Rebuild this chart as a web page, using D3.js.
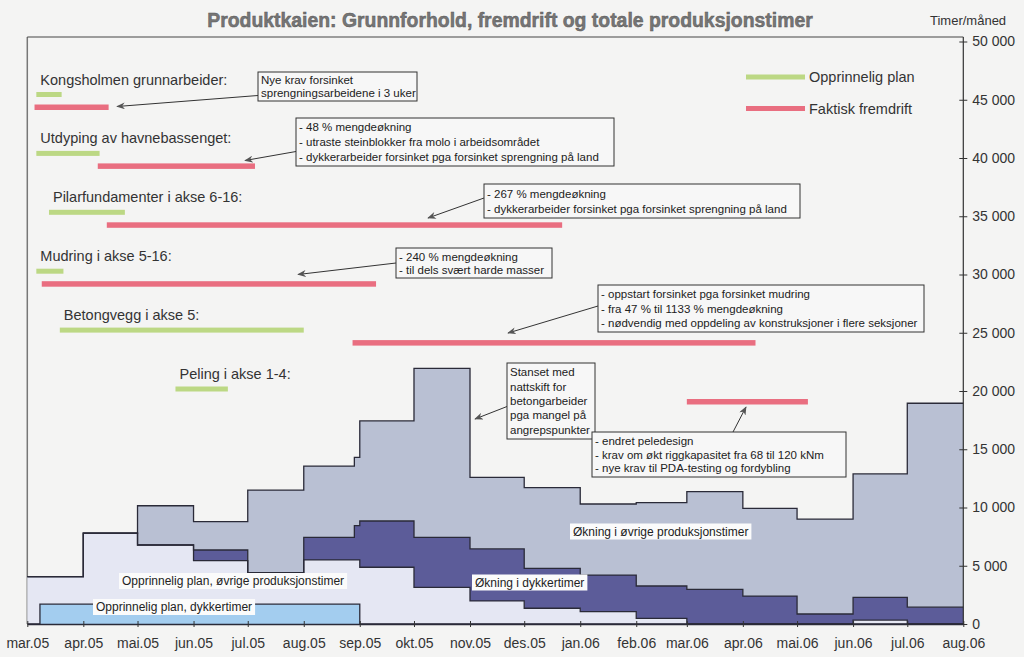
<!DOCTYPE html>
<html><head><meta charset="utf-8">
<script src="https://cdn.jsdelivr.net/npm/d3@7"></script>
<style>
body{margin:0;background:#f4f4f3;}
svg{display:block;font-family:Arial,"Liberation Sans",sans-serif;}
</style></head><body>
<svg id="c" width="1024" height="657"></svg>
<script>
// ---------- DATA ----------
const stepDates = ["2005-03-01","2005-03-08","2005-04-01","2005-05-01","2005-06-01","2005-07-01","2005-08-01","2005-08-29","2005-09-01","2005-10-01","2005-11-01","2005-12-01","2006-01-01","2006-02-01","2006-03-01","2006-04-01","2006-05-01","2006-06-01","2006-07-01","2006-08-01"];
const planDykker   = [0,1700,1700,1700,1700,1700,1700,1700,0,0,0,0,0,0,0,0,0,0,0,0];
const planOvrige   = [4060,2360,6100,5080,3740,2700,3800,3800,4870,3150,1980,1350,1060,490,0,0,0,340,0,0];
const okningDykker = [0,0,0,0,910,0,1930,2940,3970,4290,4460,3430,3140,2770,2980,2400,860,1950,1440,1440];
const okningOvrige = [0,0,0,3370,2430,7100,6130,5870,8590,14510,6150,6920,6100,7150,8380,7530,8150,10590,17510,17510];

const xTickDates  = ["2005-03-01","2005-04-01","2005-05-01","2005-06-01","2005-07-01","2005-08-01","2005-09-01","2005-10-01","2005-11-01","2005-12-01","2006-01-01","2006-02-01","2006-03-01","2006-04-01","2006-05-01","2006-06-01","2006-07-01","2006-08-01"];
const xTickLabels = ["mar.05","apr.05","mai.05","jun.05","jul.05","aug.05","sep.05","okt.05","nov.05","des.05","jan.06","feb.06","mar.06","apr.06","mai.06","jun.06","jul.06","aug.06"];
const yTickValues = [0,5000,10000,15000,20000,25000,30000,35000,40000,45000,50000];

const tasks       = ["Kongsholmen grunnarbeider:","Utdyping av havnebassenget:","Pilarfundamenter i akse 6-16:","Mudring i akse 5-16:","Betongvegg i akse 5:","Peling i akse 1-4:"];
const planStart   = ["2005-03-06","2005-03-06","2005-03-13","2005-03-06","2005-03-19","2005-05-22"];
const planEnd     = ["2005-03-20","2005-04-10","2005-04-24","2005-03-21","2005-08-01","2005-06-20"];
const actualStart = ["2005-03-05","2005-04-09","2005-04-14","2005-03-09","2005-08-28","2006-03-01"];
const actualEnd   = ["2005-04-15","2005-07-05","2005-12-22","2005-09-10","2006-04-08","2006-05-07"];

const layerNames  = ["Opprinnelig plan, dykkertimer","Opprinnelig plan, øvrige produksjonstimer","Økning i dykkertimer","Økning i øvrige produksjonstimer"];
const legendNames = ["Opprinnelig plan","Faktisk fremdrift"];

const notes = [
  {lines:["Nye krav forsinket","sprengningsarbeidene i 3 uker"]},
  {lines:["- 48 % mengdeøkning","- utraste steinblokker fra molo i arbeidsområdet","- dykkerarbeider forsinket pga forsinket sprengning på land"]},
  {lines:["- 267 % mengdeøkning","- dykkerarbeider forsinket pga forsinket sprengning på land"]},
  {lines:["- 240 % mengdeøkning","- til dels svært harde masser"]},
  {lines:["- oppstart forsinket pga forsinket mudring","- fra 47 % til 1133 % mengdeøkning","- nødvendig med oppdeling av konstruksjoner i flere seksjoner"]},
  {lines:["Stanset med","nattskift for","betongarbeider","pga mangel på","angrepspunkter"]},
  {lines:["- endret peledesign","- krav om økt riggkapasitet fra 68 til 120 kNm","- nye krav til PDA-testing og fordybling"]}
];
// layout of annotation boxes (pixels): box x,y,w,h ; arrow from -> to
const noteLayout = [
  {x:258,y:72,w:159,h:29, fx:258,fy:95.5, tx:117,ty:106.5},
  {x:296,y:118,w:318,h:48, fx:296,fy:151.5, tx:245,ty:160.5},
  {x:484,y:184,w:316,h:34, fx:484,fy:198, tx:428,ty:218},
  {x:396,y:248,w:156,h:30, fx:396,fy:263, tx:298,ty:274.5},
  {x:598,y:285,w:326,h:47, fx:598,fy:306, tx:508,ty:333},
  {x:507,y:363,w:88,h:76, fx:507,fy:406.5, tx:475,ty:419},
  {x:592,y:432,w:254,h:45, fx:733,fy:432, tx:746,ty:407}
];

// ---------- SCALES ----------
const parse = d3.utcParse("%Y-%m-%d");
const svg = d3.select("#c");
const x = d3.scaleUtc().domain([parse("2005-03-01"), parse("2006-08-01")]).range([27.3, 963.3]);
const y = d3.scaleLinear().domain([0, 50000]).range([624, 41.5]);

const colors = ["#a3cdef","#e5e7f3","#5c5c99","#b9c0d3"];
const ink = "#2a2a38";

// ---------- FRAME ----------
svg.append("line").attr("x1",27.3).attr("x2",27.3).attr("y1",37).attr("y2",624)
  .attr("stroke","#777").attr("stroke-width",1.5);
svg.append("line").attr("x1",27.3).attr("x2",963.3).attr("y1",37).attr("y2",37)
  .attr("stroke","#444").attr("stroke-width",1);

// ---------- STACKED STEP AREA ----------
const rows = stepDates.map((d,i)=>({date:parse(d), a:planDykker[i], b:planOvrige[i], c:okningDykker[i], d:okningOvrige[i]}));
const stack = d3.stack().keys(["a","b","c","d"]);
const series = stack(rows);
const area = d3.area().curve(d3.curveStepAfter)
  .x(d=>x(d.data.date)).y0(d=>y(d[0])).y1(d=>y(d[1]));
const topLine = d3.line().curve(d3.curveStepAfter)
  .x(d=>x(d.data.date)).y(d=>y(d[1]));

const gA = svg.append("g");
series.slice().reverse().forEach(s=>{
  gA.append("path").attr("d",area(s)).attr("fill",colors[s.index]).attr("stroke","none");
});
series.forEach(s=>{
  gA.append("path").attr("d",topLine(s)).attr("fill","none").attr("stroke",ink).attr("stroke-width",1.3);
});

// area labels
const areaLabels = [
  {t:layerNames[0], x:96,  y:607},
  {t:layerNames[1], x:122, y:581},
  {t:layerNames[2], x:475, y:582.5},
  {t:layerNames[3], x:573, y:531.5}
];
areaLabels.forEach(l=>{
  const t = svg.append("text").attr("x",l.x).attr("y",l.y).attr("dy","0.35em")
    .attr("font-size",12).attr("fill","#222").text(l.t);
  const bb = t.node().getBBox();
  svg.insert("rect", ()=>t.node()).attr("x",bb.x-3).attr("y",l.y-8).attr("width",bb.width+6).attr("height",16)
    .attr("fill","#fbfbfb");
});

// ---------- AXES ----------
const fmt = d3.formatLocale({decimal:",", thousands:" ", grouping:[3], currency:["",""]}).format(",");
const yAxis = svg.append("g").attr("transform","translate(963.3,0)")
  .call(d3.axisRight(y).tickValues(yTickValues).tickFormat(fmt).tickSizeInner(4).tickSizeOuter(0).tickPadding(5));
yAxis.select(".domain").attr("d","M0,37V624").attr("stroke","#333").attr("stroke-width",1.2);
yAxis.selectAll(".tick line").attr("x1",-4).attr("stroke","#333");
yAxis.selectAll("text").attr("font-size",14).attr("fill","#333").attr("font-family","Arial,'Liberation Sans',sans-serif");

const xAxis = svg.append("g").attr("transform","translate(0,624)")
  .call(d3.axisBottom(x).tickValues(xTickDates.map(parse)).tickFormat((d,i)=>xTickLabels[i]).tickSizeInner(3).tickSizeOuter(0).tickPadding(11));
xAxis.select(".domain").attr("stroke",ink).attr("stroke-width",1.3);
xAxis.selectAll(".tick line").attr("y1",-3).attr("stroke","#333");
xAxis.selectAll("text").attr("font-size",14).attr("fill","#333").attr("font-family","Arial,'Liberation Sans',sans-serif");

// ---------- GANTT ----------
const ty = d3.scalePoint().domain(tasks).range([100.5, 395]);
const green = "#bcd884", red = "#e96e80";
const gG = svg.append("g");
tasks.forEach((t,i)=>{
  const c = ty(t);
  gG.append("rect").attr("x",x(parse(planStart[i]))).attr("width",x(parse(planEnd[i]))-x(parse(planStart[i])))
    .attr("y",c-8.5).attr("height",5).attr("fill",green);
  gG.append("rect").attr("x",x(parse(actualStart[i]))).attr("width",x(parse(actualEnd[i]))-x(parse(actualStart[i])))
    .attr("y",c+4).attr("height",5.5).attr("fill",red);
  gG.append("text").attr("x",x(parse(planStart[i]))+4).attr("y",c-16).attr("font-size",14.5).attr("fill","#333").text(t);
});

// legend
[green, red].forEach((col,i)=>{
  const ly = [77,108.5][i];
  svg.append("rect").attr("x",746).attr("y",ly-2.5).attr("width",59).attr("height",5).attr("fill",col);
  svg.append("text").attr("x",809).attr("y",ly).attr("dy","0.35em").attr("font-size",14.5).attr("fill","#333").text(legendNames[i]);
});

// ---------- ANNOTATIONS ----------
const defs = svg.append("defs");
defs.append("marker").attr("id","arr").attr("viewBox","0 0 10 8").attr("refX",9).attr("refY",4)
  .attr("markerWidth",9).attr("markerHeight",7).attr("orient","auto").attr("markerUnits","userSpaceOnUse")
  .append("path").attr("d","M10,4 L0,0 L3,4 L0,8 Z").attr("fill","#555");
notes.forEach((n,i)=>{
  const L = noteLayout[i];
  svg.append("line").attr("x1",L.fx).attr("y1",L.fy).attr("x2",L.tx).attr("y2",L.ty)
    .attr("stroke","#333").attr("stroke-width",1).attr("marker-end","url(#arr)");
  svg.append("rect").attr("x",L.x).attr("y",L.y).attr("width",L.w).attr("height",L.h)
    .attr("fill","#f7f7f7").attr("stroke","#333").attr("stroke-width",1);
  const lh = (L.h-4)/n.lines.length;
  n.lines.forEach((s,j)=>{
    svg.append("text").attr("x",L.x+3).attr("y",L.y+2+lh*(j+0.5)).attr("dy","0.35em")
      .attr("font-size",11.5).attr("fill","#222").text(s);
  });
});

// ---------- TITLES ----------
svg.append("text").attr("x",510).attr("y",20).attr("dy","0.35em").attr("text-anchor","middle")
  .attr("font-size",19.4).attr("font-weight","bold").attr("fill","#767676").attr("stroke","#555").attr("stroke-width",0.45)
  .text("Produktkaien: Grunnforhold, fremdrift og totale produksjonstimer");
svg.append("text").attr("x",930).attr("y",20).attr("dy","0.35em").attr("font-size",13).attr("fill","#333").text("Timer/måned");
</script>
</body></html>
